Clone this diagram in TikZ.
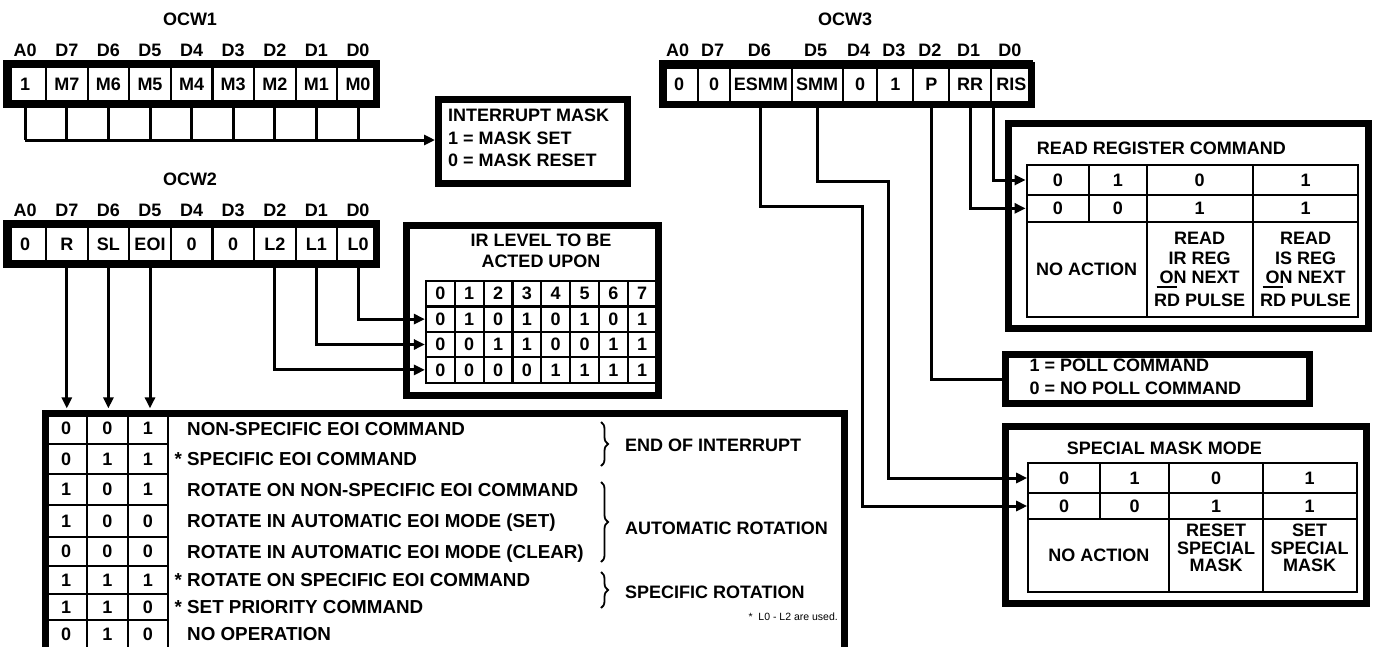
\documentclass[tikz,border=0pt]{standalone}
\usepackage{fontspec}
\setmainfont{Liberation Sans}
\usetikzlibrary{arrows.meta,decorations.pathreplacing,positioning}
\newcommand{\onnext}{\rlap{\kern-3pt\rule[-4pt]{20pt}{2pt}}ON NEXT}

\tikzset{
	heavy/.style={line width=7pt},
	wire/.style={line width=3pt},
	arrowed/.style={-{Triangle[length=11pt,width=10pt]}},
	brc/.style={line width=1.8pt, decorate, decoration={brace, amplitude=7pt}},
	lbl/.style={inner sep=0pt, font=\bfseries\fontsize{18}{21}\selectfont},
	oneline/.style={lbl, text height=12.9pt, text depth=0pt},
	cell/.style={draw, line width=2.2pt, inner sep=0pt, font=\bfseries\fontsize{18}{19.5}\selectfont},
}

\begin{document}
\begin{tikzpicture}[x=1pt, y=-1pt]
			%%%%% START %%%%%
			\useasboundingbox (0,0) rectangle (1375,646);
			
			%%%%% OCW1 %%%%%
			\node[oneline] (ocw1) at (190,19) {OCW1};
			\foreach \bit/\pos [count=\i from 0] in {1/A0,M7/D7,M6/D6,M5/D5,M4/D4,M3/D3,M2/D2,M1/D1,M0/D0} {
				\node[cell, minimum width=41.6pt, minimum height=46pt] (a\i) at (25.2+41.6*\i, 84) {\bit};
				\node[oneline] (la\i) at (25.2+41.6*\i, 50) {\pos};
			}
			\draw[heavy] (8.5,64.5) rectangle (376.5,103.5);
			
			\node[draw, heavy, minimum width=189pt, minimum height=84pt, anchor=north west] (mask) at (435,96) {};
			\node[oneline, anchor=west] (mask1) at (448,115) {INTERRUPT MASK};
			\node[oneline, anchor=west] (mask2) at (448,138) {1 = MASK SET};
			\node[oneline, anchor=west] (mask3) at (448,160.5) {0 = MASK RESET};
			\coordinate (mrow) at (0,140);
			\foreach \i in {0,...,8}
				\draw[wire] (a\i.south) -- (a\i.south |- mrow);
			\draw[wire, arrowed] (a0.south |- mrow) -- (mask.west |- mrow);
			
			%%%%% OCW2 %%%%%
			\node[oneline] (ocw2) at (190,179) {OCW2};
			\foreach \bit/\pos [count=\i from 0] in {0/A0,R/D7,SL/D6,EOI/D5,0/D4,0/D3,L2/D2,L1/D1,L0/D0} {
				\node[cell, minimum width=41.6pt, minimum height=46pt] (b\i) at (25.2+41.6*\i, 244) {\bit};
				\node[oneline] (lb\i) at (25.2+41.6*\i, 210) {\pos};
			}
			\draw[heavy] (8.5,224.5) rectangle (376.5,263.5);
			
			% IR level box
			\node[draw, heavy, minimum width=252.3pt, minimum height=170.3pt, anchor=north west] (irbox) at (402.7,221.7) {};
			\node[lbl, align=center] (irtitle) at (541,251) {IR LEVEL TO BE\\ACTED UPON};
			\foreach \r in {0,...,3}
				\foreach \c in {0,...,7} {
					\ifnum\r=0 \pgfmathtruncatemacro\v{\c}\else \pgfmathtruncatemacro\v{mod(floor(\c/2^(\r-1)),2)}\fi
					\node[cell, minimum width=28.83pt, minimum height=25.4pt] (ir\r\c) at (440.4+28.83*\c, 293.7+25.4*\r) {\v};
				}
			\draw[wire, arrowed] (b8.south) |- (ir10.west);
			\draw[wire, arrowed] (b7.south) |- (ir20.west);
			\draw[wire, arrowed] (b6.south) |- (ir30.west);
			
			% command table
			\draw[heavy] (45.5,652) -- (45.5,413.5) -- (844.5,413.5) -- (844.5,652);
			\foreach \ya/\yb/\p/\q/\s/\cmd [count=\k] in {
					413/444/0/0/1/{NON-SPECIFIC EOI COMMAND},
					444/474/0/1/1/{\llap{* }SPECIFIC EOI COMMAND},
					474/505/1/0/1/{ROTATE ON NON-SPECIFIC EOI COMMAND},
					505/537/1/0/0/{ROTATE IN AUTOMATIC EOI MODE (SET)},
					537/566/0/0/0/{ROTATE IN AUTOMATIC EOI MODE (CLEAR)},
					566/594/1/1/1/{\llap{* }ROTATE ON SPECIFIC EOI COMMAND},
					594/620/1/1/0/{\llap{* }SET PRIORITY COMMAND},
					620/648/0/1/0/{NO OPERATION}} {
				\node[cell, minimum width=41.5pt, minimum height=\yb-\ya] (t\k-1) at (66.25, {(\ya+\yb)/2}) {\p};
				\node[cell, minimum width=41pt, minimum height=\yb-\ya] (t\k-2) at (107.5, {(\ya+\yb)/2}) {\q};
				\node[cell, minimum width=40pt, minimum height=\yb-\ya] (t\k-3) at (148, {(\ya+\yb)/2}) {\s};
				\node[oneline, anchor=west, font=\bfseries\fontsize{18.8}{21}\selectfont, text height=13.4pt] (cmd\k) at (187, {(\ya+\yb)/2}) {\cmd};
			}
			\foreach \i in {1,2,3}
				\draw[wire, arrowed, shorten >=3.5pt] (b\i.south) -- (b\i.south |- t1-\i.north);
			
			\draw[brc] (601,422) -- (601,466);
			\draw[brc] (601,482) -- (601,562);
			\draw[brc] (601,572) -- (601,608);
			\node[oneline, anchor=west] (eoi) at (625,445) {END OF INTERRUPT};
			\node[oneline, anchor=west] (autorot) at (625,528) {AUTOMATIC ROTATION};
			\node[oneline, anchor=west] (specrot) at (625,592) {SPECIFIC ROTATION};
			\node[anchor=east, inner sep=0pt, font=\fontsize{10.5}{12}\selectfont] (note) at (838,617) {*\ \ L0 - L2 are used.};
			
			%%%%% OCW3 %%%%%
			\node[oneline] (ocw3) at (845,19) {OCW3};
			\foreach \l/\r/\bit/\pos [count=\i from 0] in {660/698.3/0/A0, 698.3/730/0/D7, 730/791.7/ESMM/D6, 791.7/842.7/SMM/D5, 842.7/877.3/0/D4, 877.3/913.3/1/D3, 913.3/949.3/P/D2, 949.3/991/RR/D1, 991/1031.5/RIS/D0} {
				\node[cell, minimum width=\r-\l, minimum height=46pt] (c\i) at ({(\l+\r)/2},84) {\bit};
				\node[oneline] (lc\i) at ({(\l+\r)/2-1.5},50) {\pos};
			}
			\draw[heavy] (663.5,65) rectangle (1031.5,104);
			
			% read register command
			\node[draw, heavy, minimum width=359.7pt, minimum height=204.7pt, anchor=north west] (rrbox) at (1005,120) {};
			\node[oneline, anchor=west] (rrtitle) at (1036.7,148.3) {READ REGISTER COMMAND};
			\foreach \l/\r/\p/\q [count=\i] in {1026.7/1089/0/0, 1089/1146.7/1/0, 1146.7/1252.7/0/1, 1252.7/1358.3/1/1} {
				\node[cell, minimum width=\r-\l, minimum height=30pt] (r1\i) at ({(\l+\r)/2},180) {\p};
				\node[cell, minimum width=\r-\l, minimum height=26.7pt] (r2\i) at ({(\l+\r)/2},208.35) {\q};
			}
			\node[cell, minimum width=120pt, minimum height=95pt] (r31) at (1086.7,269.2) {NO ACTION};
			\node[cell, align=center, minimum width=106pt, minimum height=95pt] (r32) at (1199.7,269.2) {READ\\IR REG\\\onnext\\[3pt]RD PULSE};
			\node[cell, align=center, minimum width=105.6pt, minimum height=95pt] (r33) at (1305.5,269.2) {READ\\IS REG\\\onnext\\[3pt]RD PULSE};
			
			% poll
			\node[draw, heavy, minimum width=304.6pt, minimum height=49.6pt, anchor=north west] (poll) at (1001.7,350.7) {};
			\node[oneline, anchor=west] (poll1) at (1029.3,365) {1 = POLL COMMAND};
			\node[oneline, anchor=west] (poll2) at (1029.3,388) {0 = NO POLL COMMAND};
			
			% special mask mode
			\node[draw, heavy, minimum width=361.3pt, minimum height=176.4pt, anchor=north west] (smbox) at (1001.7,423.3) {};
			\node[oneline, anchor=west] (smtitle) at (1066.7,448.3) {SPECIAL MASK MODE};
			\foreach \l/\r/\p/\q [count=\i] in {1028.3/1100/0/0, 1100/1169.3/1/0, 1169.3/1262.7/0/1, 1262.7/1356.7/1/1} {
				\node[cell, minimum width=\r-\l, minimum height=29.4pt] (s1\i) at ({(\l+\r)/2},478) {\p};
				\node[cell, minimum width=\r-\l, minimum height=26.6pt] (s2\i) at ({(\l+\r)/2},506) {\q};
			}
			\node[cell, minimum width=141pt, minimum height=72.4pt] (s31) at (1098.8,555.5) {NO ACTION};
			\node[cell, minimum width=93.4pt, minimum height=72.4pt] (s32) at (1216,555.5) {};
			\node[cell, minimum width=94pt, minimum height=72.4pt] (s33) at (1309.7,555.5) {};
			\node[lbl, align=center, font=\bfseries\fontsize{18}{17.5}\selectfont] (s32t) at (1216,548) {RESET\\SPECIAL\\MASK};
			\node[lbl, align=center, font=\bfseries\fontsize{18}{17.5}\selectfont] (s33t) at (1309.7,548) {SET\\SPECIAL\\MASK};
			
			% OCW3 wires
			\coordinate (smmbend) at (888.3,181.7);
			\coordinate (esmmbend) at (862.7,206);
			\draw[wire, arrowed] ([xshift=4pt]c8.south west) |- (r11.west);
			\draw[wire, arrowed] (c7.south) |- (r21.west);
			\draw[wire] (c6.south) |- (poll.west);
			\draw[wire, arrowed] (c3.south) |- (smmbend) |- (s11.west);
			\draw[wire, arrowed] (c2.south) |- (esmmbend) |- (s21.west);
			
			%%%%% END %%%%%
\end{tikzpicture}
\end{document}
